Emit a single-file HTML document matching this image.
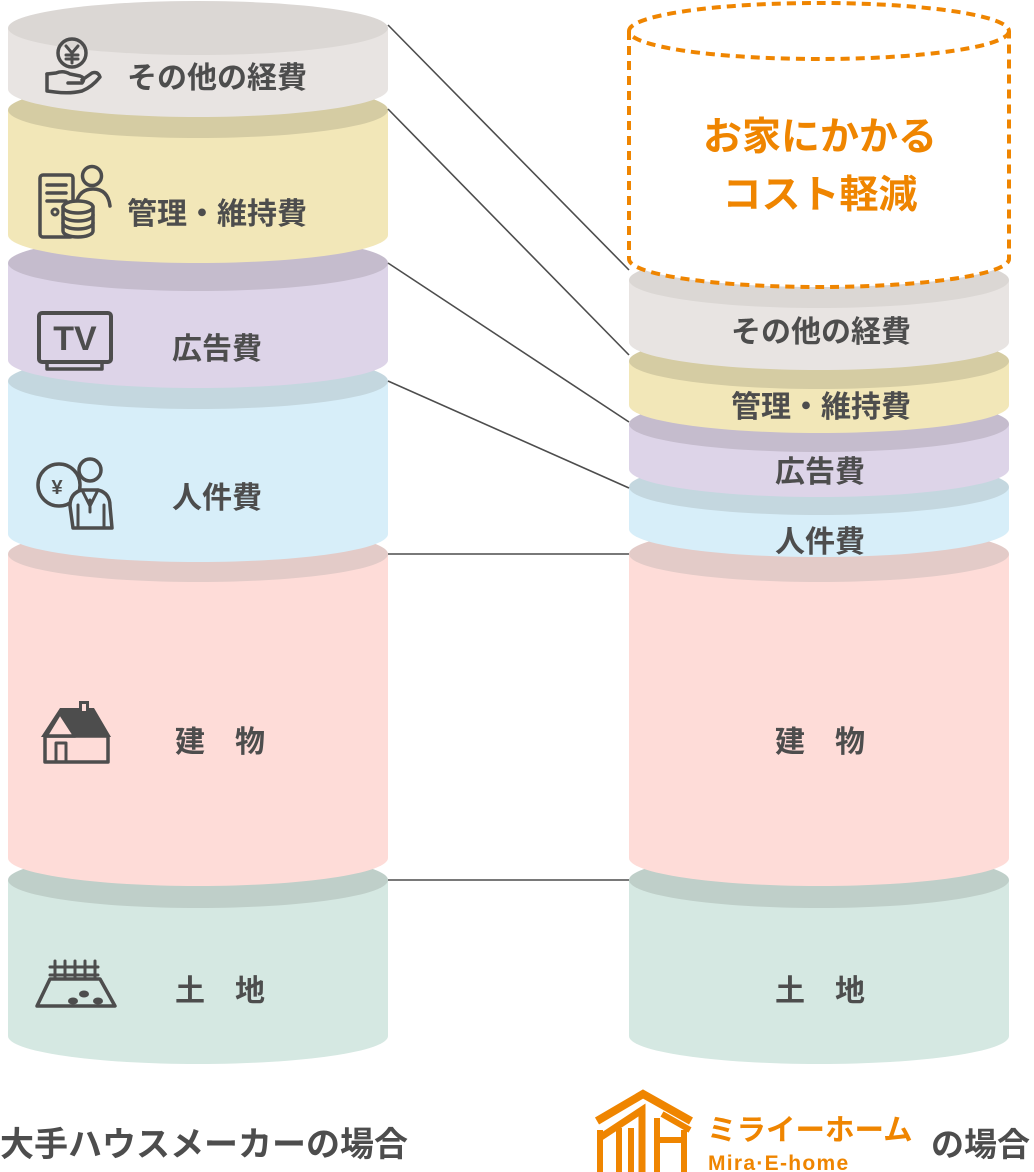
<!DOCTYPE html>
<html>
<head>
<meta charset="utf-8">
<style>
html,body{margin:0;padding:0;background:#fff;}
svg{display:block;}
text{font-family:"Liberation Sans","Noto Sans CJK JP",sans-serif;font-weight:bold;}
</style>
</head>
<body>
<svg width="1034" height="1172" viewBox="0 0 1034 1172" xmlns="http://www.w3.org/2000/svg">
<rect width="1034" height="1172" fill="#fff"/>

<!-- LEFT CYLINDER (bottom to top) -->
<g>
  <path d="M8 880 L8 1036 A190 28 0 0 0 388 1036 L388 880 Z" fill="#d5e8e2"/>
  <ellipse cx="198" cy="880" rx="190" ry="28" fill="#bfcfc9"/>
  <path d="M8 554 L8 858 A190 28 0 0 0 388 858 L388 554 Z" fill="#fedcd8"/>
  <ellipse cx="198" cy="554" rx="190" ry="28" fill="#e3cbc8"/>
  <path d="M8 381 L8 534 A190 28 0 0 0 388 534 L388 381 Z" fill="#d7eef9"/>
  <ellipse cx="198" cy="381" rx="190" ry="28" fill="#c4d7df"/>
  <path d="M8 263 L8 360 A190 28 0 0 0 388 360 L388 263 Z" fill="#ddd4e8"/>
  <ellipse cx="198" cy="263" rx="190" ry="28" fill="#c5bccd"/>
  <path d="M8 110 L8 235 A190 28 0 0 0 388 235 L388 110 Z" fill="#f2e7b8"/>
  <ellipse cx="198" cy="110" rx="190" ry="28" fill="#d5cca3"/>
  <path d="M8 28 L8 89 A190 28 0 0 0 388 89 L388 28 Z" fill="#e8e4e2"/>
  <ellipse cx="198" cy="28" rx="190" ry="27" fill="#dbd7d4"/>
</g>

<!-- RIGHT CYLINDER -->
<g>
  <path d="M629 880 L629 1036 A190 28 0 0 0 1009 1036 L1009 880 Z" fill="#d5e8e2"/>
  <ellipse cx="819" cy="880" rx="190" ry="28" fill="#bfcfc9"/>
  <path d="M629 554 L629 858 A190 28 0 0 0 1009 858 L1009 554 Z" fill="#fedcd8"/>
  <ellipse cx="819" cy="554" rx="190" ry="28" fill="#e3cbc8"/>
  <path d="M629 487 L629 529 A190 28 0 0 0 1009 529 L1009 487 Z" fill="#d7eef9"/>
  <ellipse cx="819" cy="487" rx="190" ry="28" fill="#c4d7df"/>
  <path d="M629 424 L629 469 A190 28 0 0 0 1009 469 L1009 424 Z" fill="#ddd4e8"/>
  <ellipse cx="819" cy="424" rx="190" ry="28" fill="#c5bccd"/>
  <path d="M629 361 L629 405 A190 28 0 0 0 1009 405 L1009 361 Z" fill="#f2e7b8"/>
  <ellipse cx="819" cy="361" rx="190" ry="28" fill="#d5cca3"/>
  <path d="M629 280 L629 342 A190 28 0 0 0 1009 342 L1009 280 Z" fill="#e8e4e2"/>
  <ellipse cx="819" cy="280" rx="190" ry="28" fill="#dbd7d4"/>
</g>

<!-- DOTTED CYLINDER -->
<g>
  <path d="M629 31 L629 259 A190 28 0 0 0 1009 259 L1009 31 Z" fill="#fff"/>
  <ellipse cx="819" cy="31" rx="190" ry="28" fill="#fff"/>
  <g fill="none" stroke="#ef8500" stroke-width="4" stroke-dasharray="9 6">
    <ellipse cx="819" cy="31" rx="190" ry="28"/>
    <path d="M629 31 L629 259 A190 28 0 0 0 1009 259 L1009 31"/>
  </g>
  <text x="820" y="150" font-size="39" fill="#ef8500" text-anchor="middle">お家にかかる</text>
  <text x="820" y="208" font-size="39" fill="#ef8500" text-anchor="middle">コスト軽減</text>
</g>

<!-- CONNECTOR LINES -->
<g stroke="#4d4d4d" stroke-width="1.6" fill="none">
  <line x1="388" y1="25" x2="629" y2="270"/>
  <line x1="388" y1="109" x2="629" y2="355"/>
  <line x1="388" y1="263" x2="629" y2="422"/>
  <line x1="388" y1="381" x2="629" y2="488"/>
  <line x1="388" y1="554" x2="629" y2="554"/>
  <line x1="388" y1="880" x2="629" y2="880"/>
</g>

<!-- LEFT LABELS -->
<g fill="#4d4d4d" font-size="30">
  <text x="127" y="88">その他の経費</text>
  <text x="127" y="224">管理・維持費</text>
  <text x="217" y="359" text-anchor="middle">広告費</text>
  <text x="217" y="508" text-anchor="middle">人件費</text>
  <text x="220" y="752" text-anchor="middle">建　物</text>
  <text x="220" y="1001" text-anchor="middle">土　地</text>
</g>

<!-- RIGHT LABELS -->
<g fill="#4d4d4d" font-size="30" text-anchor="middle">
  <text x="821" y="342">その他の経費</text>
  <text x="821" y="417">管理・維持費</text>
  <text x="820" y="482">広告費</text>
  <text x="820" y="552">人件費</text>
  <text x="820" y="752">建　物</text>
  <text x="820" y="1001">土　地</text>
</g>

<!-- ICONS -->
<g stroke="#4d4d4d" stroke-width="3.5" fill="none" stroke-linecap="round" stroke-linejoin="round">
  <!-- yen hand -->
  <circle cx="72" cy="53" r="14"/>
  <path d="M66 46 L72 53 L78 46 M72 53 L72 63 M66 55 L78 55 M66 59 L78 59" stroke-width="3"/>
  <path d="M47 74 L56 73 Q63 70 70 74 L80 76 Q86 78 82 83 L68 83"/>
  <path d="M47 74 L47 91 L55 92 Q70 94 82 91 Q92 87 100 77 Q98 71 92 73 L82 80"/>

  <!-- document + person + coins -->
  <rect x="40" y="175" width="33" height="62" rx="3"/>
  <path d="M47 185 L66 185 M47 193 L66 193 M47 201 L66 201"/>
  <circle cx="55" cy="212" r="3" stroke-width="3"/>
  <circle cx="92" cy="176" r="9.5"/>
  <path d="M76 204 Q79 189 93 189 Q108 189 110 206"/>
  <path d="M63 207 L63 231 A15 6 0 0 0 93 231 L93 207" fill="#f2e7b8"/>
  <ellipse cx="78" cy="207" rx="15" ry="6" fill="#f2e7b8"/>
  <path d="M63 215 A15 6 0 0 0 93 215 M63 223 A15 6 0 0 0 93 223"/>

  <!-- TV -->
  <rect x="39" y="313" width="72" height="49" rx="3" stroke-width="4"/>
  <rect x="47" y="362" width="55" height="7" stroke-width="3.5"/>

  <!-- person with yen -->
  <circle cx="59" cy="485" r="21"/>
  <path d="M73 528 L70 506 Q70 493 82 490 L98 490 Q110 493 110 506 L112 528 Z" fill="#d7eef9"/>
  <path d="M82 490 L90 506 L98 490 M90 500 L90 512 M78 505 L78 527 M104 505 L104 527" stroke-width="3"/>
  <circle cx="90" cy="470" r="11" fill="#d7eef9"/>

  <!-- house -->
  <rect x="45" y="736" width="63" height="26" stroke-width="3.5"/>
  <rect x="56" y="743" width="10" height="19" stroke-width="3"/>
  <!-- field -->
  <path d="M50 979 L100 979 L115 1006 L37 1006 Z"/>
  <path d="M50 967 L98 967 M50 975 L98 975 M55 961 L55 979 M65 961 L65 979 M75 961 L75 979 M85 961 L85 979 M95 961 L95 979" stroke-width="3"/>
</g>
<g fill="#4d4d4d">
  <text x="57" y="494" font-size="20" text-anchor="middle">¥</text>
  <text x="75" y="350" font-size="34" text-anchor="middle" font-family="Liberation Sans, sans-serif">TV</text>
  <!-- house roof -->
  <polygon points="41,737 60,708 94,708 111,737"/>
  <polygon points="60,713 46,736 75,736" fill="#fedcd8" stroke="#4d4d4d" stroke-width="3.5" stroke-linejoin="round"/>
  <rect x="79" y="701" width="10" height="12"/>
  <rect x="82" y="704" width="4" height="7" fill="#fedcd8"/>
  <!-- vegetables -->
  <ellipse cx="73" cy="1001" rx="5" ry="3.5"/>
  <ellipse cx="84" cy="994" rx="5" ry="3.5"/>
  <ellipse cx="98" cy="1001" rx="5" ry="3.5"/>
</g>

<!-- BOTTOM CAPTIONS -->
<text x="0" y="1156" font-size="34" fill="#4d4d4d">大手ハウスメーカーの場合</text>
<text x="931" y="1156" font-size="33" fill="#4d4d4d">の場合</text>

<!-- LOGO -->
<g fill="none" stroke="#ef8500" stroke-linecap="butt" stroke-linejoin="miter">
  <path d="M597 1121 L643 1094 L691 1121" stroke-width="8"/>
  <path d="M601 1137 L642 1110 L642 1172" stroke-width="7"/>
  <path d="M600 1130 L600 1172 M619 1128 L619 1172 M631 1128 L631 1172" stroke-width="6"/>
  <path d="M657 1118 L657 1172 M684 1130 L684 1172 M657 1140 L684 1140 M662 1114 L690 1130" stroke-width="6"/>
</g>
<text x="707" y="1140" font-size="29.5" fill="#ef8500">ミライーホーム</text>
<text x="708" y="1170" font-size="21" fill="#ef8500" letter-spacing="1.3" font-family="Liberation Sans, sans-serif">Mira·E-home</text>
</svg>
</body>
</html>
